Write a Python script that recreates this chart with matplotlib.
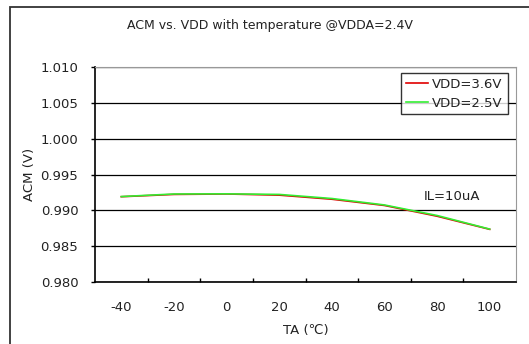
import matplotlib
matplotlib.use('Agg')
import matplotlib.pyplot as plt
from matplotlib.patches import Rectangle
import numpy as np

plt.rcParams['font.family'] = ['DejaVu Sans', 'Noto Sans CJK SC']

temps = [-40, -20, 0, 20, 40, 60, 80, 100]
acm_36 = [0.99190, 0.99222, 0.99228, 0.99212, 0.99155, 0.99068, 0.98918, 0.98735]
acm_25 = [0.99192, 0.99228, 0.99230, 0.99222, 0.99165, 0.99075, 0.98928, 0.98738]

fig = plt.figure(figsize=(5.29, 3.44), dpi=100)
# outer chart frame (cropped at right and bottom like the reference)
fig.patches.append(Rectangle((10 / 529, -0.1), 1.2, 1.1 - 7 / 344, transform=fig.transFigure,
                             fill=False, edgecolor='#333333', linewidth=1.3, clip_on=False))

ax = fig.add_axes([95 / 529, 1 - 282 / 344, (516 - 95) / 529, (282 - 67) / 344])
pos = np.arange(len(temps))
ax.plot(pos, acm_36, color='#e00000', linewidth=1.2, label='VDD=3.6V')
ax.plot(pos, acm_25, color='#33ee33', linewidth=1.2, label='VDD=2.5V')

ax.set_xlim(-0.5, len(temps) - 0.5)
ax.set_ylim(0.980, 1.010)
yt = np.arange(0.980, 1.0101, 0.005)
ax.set_yticks(yt)
ax.set_yticklabels(['%.3f' % v for v in yt])
ax.set_xticks(pos)
ax.set_xticklabels([str(t) for t in temps])
ax.set_xticks(np.arange(0.5, len(temps) - 0.5, 1.0), minor=True)
ax.tick_params(axis='x', which='major', length=0, pad=14, labelsize=9.5, labelcolor='#222222')
ax.tick_params(axis='x', which='minor', direction='in', length=3, width=1, color='black')
ax.tick_params(axis='y', which='major', direction='out', length=3, width=1, pad=9,
               labelsize=9.5, color='black', labelcolor='#222222')

ax.grid(axis='y', color='black', linewidth=0.9)
ax.set_axisbelow(True)
ax.spines['left'].set_color('black')
ax.spines['bottom'].set_color('black')
ax.spines['left'].set_linewidth(1.2)
ax.spines['bottom'].set_linewidth(1.2)
ax.spines['top'].set_color('#999999')
ax.spines['right'].set_color('#999999')

ax.set_xlabel('TA (℃)', fontsize=9.5, color='#222222', labelpad=7)
ax.set_ylabel('ACM (V)', fontsize=9.5, color='#222222', labelpad=3)

ax.text(5.75, 0.9919, 'IL=10uA', fontsize=9.5, color='#222222', va='center')

leg = ax.legend(loc='upper right', bbox_to_anchor=(0.98, 0.972), frameon=True, fancybox=False,
                edgecolor='black', fontsize=9.5, handlelength=1.7, handletextpad=0.3,
                borderpad=0.35, labelspacing=0.45, borderaxespad=0)
leg.get_frame().set_linewidth(1.0)
for t in leg.get_texts():
    t.set_color('#222222')

fig.text(270 / 529, 1 - 25 / 344, 'ACM vs. VDD with temperature @VDDA=2.4V', ha='center',
         va='center', fontsize=9, color='#222222')

fig.savefig('out.png', dpi=100)
